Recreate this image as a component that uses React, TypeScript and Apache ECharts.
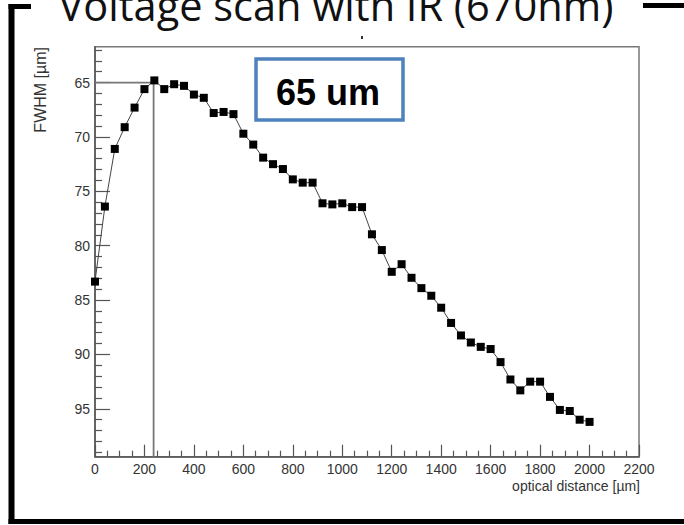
import React, { useEffect, useRef } from "react";
import * as echarts from "echarts";

const xValues = [0, 40, 80, 120, 160, 200, 240, 280, 320, 360, 400, 440, 480, 520, 560, 600, 640, 680, 720, 760, 800, 840, 880, 920, 960, 1000, 1040, 1080, 1120, 1160, 1200, 1240, 1280, 1320, 1360, 1400, 1440, 1480, 1520, 1560, 1600, 1640, 1680, 1720, 1760, 1800, 1840, 1880, 1920, 1960, 2000];
const fwhm = [83.3, 76.4, 71.1, 69.1, 67.3, 65.6, 64.8, 65.6, 65.15, 65.3, 66.1, 66.4, 67.8, 67.7, 67.9, 69.7, 70.7, 71.9, 72.5, 72.95, 73.9, 74.2, 74.2, 76.1, 76.2, 76.1, 76.45, 76.45, 78.95, 80.4, 82.4, 81.7, 82.95, 83.9, 84.6, 85.7, 87.1, 88.25, 88.9, 89.3, 89.5, 90.7, 92.3, 93.3, 92.5, 92.5, 93.9, 95.1, 95.2, 96.0, 96.2];
const yMajorTicks = [65, 70, 75, 80, 85, 90, 95];
const yMinorTicks = [62, 63, 64, 66, 67, 68, 69, 71, 72, 73, 74, 76, 77, 78, 79, 81, 82, 83, 84, 86, 87, 88, 89, 91, 92, 93, 94, 96, 97, 98, 99];
const peakX = 237;
const peakY = 65;
const yMin = 61.7;
const yMax = 99.4;
const xMin = 0;
const xMax = 2200;
const xStep = 200;
const titleText = "Voltage scan with IR (670nm)";
const boxText = "65 um";
const xTitle = "optical distance [µm]";
const yTitle = "FWHM [µm]";

export default function App() {
  const ref = useRef<HTMLDivElement>(null);
  useEffect(() => {
    if (!ref.current) return;
    const chart = echarts.init(ref.current, null, { renderer: "svg" });
    const axisColor = "#555";
    const points = xValues.map((x, i) => [x, fwhm[i]]);
    chart.setOption({
      animation: false,
      backgroundColor: "#fff",
      grid: {
        left: 95,
        right: 45,
        top: 46.7,
        bottom: 68.3,
        show: true,
        borderColor: "#777",
        borderWidth: 1.5,
        backgroundColor: "#fff",
      },
      xAxis: {
        type: "value",
        min: xMin,
        max: xMax,
        interval: xStep,
        axisLine: { show: true, lineStyle: { color: axisColor, width: 1.5 } },
        axisTick: { show: true, inside: true, length: 12, lineStyle: { color: axisColor, width: 1.2 } },
        minorTick: { show: true, splitNumber: 4, length: 6, lineStyle: { color: axisColor, width: 1.2 } },
        splitLine: { show: false },
        minorSplitLine: { show: false },
        axisLabel: {
          color: "#333",
          fontSize: 14,
          fontFamily: "Liberation Sans",
          margin: 5,
          formatter: (v: number) => String(v),
        },
      },
      yAxis: [
        {
          type: "value",
          inverse: true,
          min: yMin,
          max: yMax,
          axisLine: { show: true, lineStyle: { color: axisColor, width: 1.5 } },
          axisTick: { show: true, inside: true, length: 15, customValues: yMajorTicks, lineStyle: { color: axisColor, width: 1.2 } },
          splitLine: { show: false },
          axisLabel: {
            color: "#333",
            fontSize: 14,
            fontFamily: "Liberation Sans",
            margin: 5,
            customValues: yMajorTicks,
            formatter: (v: number) => String(v),
          },
        },
        {
          type: "value",
          inverse: true,
          min: yMin,
          max: yMax,
          position: "left",
          axisLine: { show: false },
          axisTick: { show: true, inside: true, length: 7, customValues: yMinorTicks, lineStyle: { color: axisColor, width: 1.2 } },
          splitLine: { show: false },
          axisLabel: { show: false },
        },
      ],
      series: [
        {
          type: "line",
          data: [[xMin, peakY], [peakX, peakY], [peakX, yMax]],
          symbol: "none",
          lineStyle: { color: "#777", width: 1.8 },
          z: 1,
        },
        {
          type: "line",
          data: points,
          symbol: "rect",
          symbolSize: 8,
          itemStyle: { color: "#000" },
          lineStyle: { color: "#444", width: 1 },
          z: 3,
        },
      ],
      graphic: [
        { type: "line", shape: { x1: 11.5, y1: 4, x2: 11.5, y2: 524 }, style: { stroke: "#000", lineWidth: 6 } },
        { type: "line", shape: { x1: 8.5, y1: 6.5, x2: 31, y2: 6.5 }, style: { stroke: "#000", lineWidth: 5 } },
        { type: "line", shape: { x1: 643, y1: 5.5, x2: 684, y2: 5.5 }, style: { stroke: "#000", lineWidth: 5 } },
        { type: "line", shape: { x1: 8.5, y1: 521.5, x2: 684, y2: 521.5 }, style: { stroke: "#000", lineWidth: 5 } },
        {
          type: "text",
          x: 336,
          y: 4.5,
          style: { text: titleText, fontSize: 41.5, fontFamily: "Open Sans", fill: "#111", align: "center", verticalAlign: "middle" },
        },
        {
          type: "text",
          x: 640,
          y: 485.5,
          style: { text: xTitle, fontSize: 14, fontFamily: "Liberation Sans", fill: "#333", align: "right", verticalAlign: "middle" },
        },
        {
          type: "text",
          x: 40,
          y: 47,
          rotation: Math.PI / 2,
          style: { text: yTitle, fontSize: 16, fontFamily: "Liberation Sans", fill: "#333", align: "right", verticalAlign: "middle" },
        },
        {
          type: "rect",
          shape: { x: 256, y: 59, width: 147, height: 61 },
          style: { fill: "#fff", stroke: "#4F81BD", lineWidth: 3.5 },
          z: 10,
        },
        {
          type: "text",
          x: 328,
          y: 92,
          style: { text: boxText, fontSize: 36, fontWeight: "bold", fontFamily: "Liberation Sans", fill: "#000", align: "center", verticalAlign: "middle" },
          z: 11,
        },
        { type: "rect", shape: { x: 361, y: 36, width: 2, height: 3 }, style: { fill: "#333" } },
      ],
    });
    return () => chart.dispose();
  }, []);
  return <div ref={ref} style={{ position: "fixed", left: 0, top: 0, width: 684, height: 525 }} />;
}
